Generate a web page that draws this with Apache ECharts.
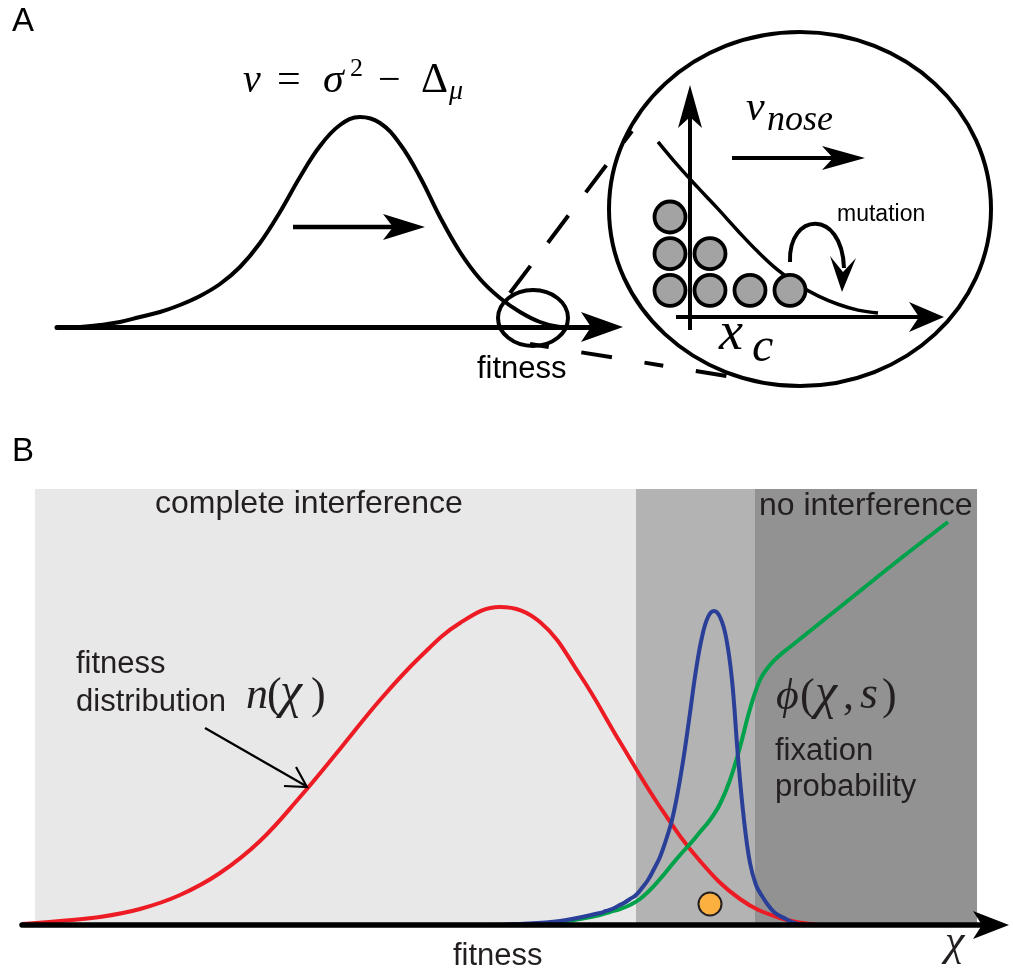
<!DOCTYPE html>
<html><head><meta charset="utf-8">
<script src="https://cdn.jsdelivr.net/npm/echarts@6/dist/echarts.min.js"></script>
<style>html,body{margin:0;padding:0;background:#fff}#c{width:1013px;height:971px}</style>
</head><body><div id="c"></div>
<script>
// ---------- Panel A: travelling fitness wave [fitness, density] ----------
const waveA = [[80,0],[100,2],[120,5],[140,10],[160,15],[180,22],[200,31],[220,43],[240,60],[260,84],[280,115],[300,150],[320,181],[340,202],[360,210],[380,204],[400,183],[420,150],[440,110],[460,75],[480,48],[500,29],[520,15],[540,5],[560,0]];
// ---------- Inset: the nose of the distribution ----------
const noseCurve = [[-0.3,5.05],[0.2,4.4],[0.7,3.8],[1.2,3.22],[1.7,2.62],[2.2,2.05],[2.7,1.55],[3.2,1.15],[3.7,0.85],[4.2,0.62],[4.7,0.46],[5.2,0.38]];
const noseColumns = [0,1,2,3];          // fitness classes
const noseCounts  = [3,2,1,1];          // individuals stacked per class
// ---------- Panel B ----------
const fitnessDist = [[22,1],[60,4],[100,8],[140,16],[180,30],[220,52],[260,84],[300,128],[340,176],[380,225],[420,268],[460,302],[500,318],[540,303],[580,250],[620,183],[660,118],[700,64],[740,26],[780,7],[820,0]];
const fixedOrigin = [[480,0],[520,1],[560,4],[600,12],[606,14],[612,16],[618,19],[624,22],[630,26],[636,30],[642,37],[648,45],[654,56],[660,68],[666,85],[672,105],[678,134],[684,170],[690,212],[696,255],[702,288],[708,308],[714,314],[720,308],[726,288],[732,245],[738,168],[744,105],[750,62],[756,40],[762,29],[768,20],[774,13],[780,9],[786,6],[792,3],[798,1],[804,0]];
const fixationProb = [[100,0],[200,0],[300,0],[400,0],[500,0],[540,1],[560,3],[580,6],[600,10],[610,13],[620,16],[630,20],[640,26],[650,35],[660,46],[670,58],[680,70],[690,81],[700,93],[710,105],[720,121],[730,145],[740,178],[750,216],[760,245],[770,260],[780,270],[790,278],[800,286],[810,294],[850,326],[900,366],[948,403]];
const mutant = [[710,21]];
const zoneNames  = ['complete interference','','no interference'];
const zoneStarts = [35,636,755];
const zoneEnds   = [636,755,977];
const zoneColors = ['#e8e8e8','#b3b3b3','#929292'];

const noseDots = [];
noseColumns.forEach((c,i)=>{ for(let k=1;k<=noseCounts[i];k++) noseDots.push([c,k]); });

const INK = '#231f20';
const SANS = 'Liberation Sans, Arial, Helvetica, sans-serif';
const SERIF = 'Liberation Serif, Times New Roman, serif';
function txt(s,x,base,size,o){
  return {type:'text',x:x,y:base-0.35*size,z:100,silent:true,
    style:Object.assign({text:s,fontSize:size,fontFamily:SANS,fill:INK,textAlign:'left',align:'left',textVerticalAlign:'middle',verticalAlign:'middle'},o||{})};
}
function mth(s,x,base,size,italic,col){
  return {type:'text',x:x,y:base-0.34*size,z:100,silent:true,
    style:{text:s,fontSize:size,fontFamily:SERIF,fontStyle:italic?'italic':'normal',fill:col||'#000',textAlign:'left',align:'left',textVerticalAlign:'middle',verticalAlign:'middle'}};
}
function arrow(x1,y1,x2,y2,len,hw,notch,w,color){
  const a=Math.atan2(y2-y1,x2-x1), c=Math.cos(a), s=Math.sin(a);
  const bx=x2-len*c, by=y2-len*s, nx=x2-(len-notch)*c, ny=y2-(len-notch)*s;
  return [
    {type:'line',z:100,silent:true,shape:{x1:x1,y1:y1,x2:nx,y2:ny},style:{stroke:color,lineWidth:w}},
    {type:'polygon',z:100,silent:true,shape:{points:[[x2,y2],[bx-hw*s,by+hw*c],[nx,ny],[bx+hw*s,by-hw*c]]},style:{fill:color}}
  ];
}

const graphics = [];
graphics.push(txt('A',12,33,33,{fill:'#000'}));
graphics.push(txt('B',12,463,33,{fill:'#000'}));
// formula v = sigma^2 - Delta_mu
graphics.push(mth('v',243,95,40,true));
graphics.push(mth('=',277,95,42,false));
graphics.push(mth('σ',323,95,42,true));
graphics.push(mth('2',350,78,26,false));
graphics.push(mth('−',378,95,40,false));
graphics.push(mth('Δ',421,95,42,false));
graphics.push(mth('μ',449,101,28,true));
// arrow inside wave
graphics.push(...arrow(293,227,425,227,42,13,10,4.5,'#000'));
// small ellipse on the tail
graphics.push({type:'ellipse',z:100,silent:true,shape:{cx:533,cy:318,rx:35,ry:28},style:{fill:null,stroke:'#000',lineWidth:4}});
graphics.push(txt('fitness',477,380,31,{fill:'#000'}));
// dashed zoom lines
graphics.push({type:'line',z:100,silent:true,shape:{x1:510,y1:293,x2:632,y2:131},style:{stroke:'#000',lineWidth:4,lineDash:[34,29]}});
graphics.push({type:'line',z:100,silent:true,shape:{x1:530,y1:344,x2:745,y2:379},style:{stroke:'#000',lineWidth:4,lineDash:[19,33,31,33]}});
// big circle
graphics.push({type:'ellipse',z:100,silent:true,shape:{cx:800,cy:209,rx:191,ry:177},style:{fill:null,stroke:'#000',lineWidth:4}});
// inset axes
graphics.push(...arrow(690,330,690,85,43,12,11,4,'#000'));
graphics.push(...arrow(676,317,944,317,35,15,10,4,'#000'));
// v_nose
graphics.push(mth('v',746,123,42,true));
graphics.push(mth('nose',767,133,36,true));
graphics.push(...arrow(732,158,865,158,43,12,11,4,'#000'));
// mutation
graphics.push(txt('mutation',837,223,23,{fill:'#000'}));
graphics.push({type:'bezierCurve',z:100,silent:true,shape:{x1:790,y1:262,cpx1:788,cpy1:212,cpx2:842,cpy2:208,x2:844,y2:268},style:{stroke:'#000',lineWidth:4,fill:null}});
graphics.push({type:'polygon',z:100,silent:true,shape:{points:[[842,292],[830,256],[843,272],[856,258]]},style:{fill:'#000'}});
// x_c
graphics.push(mth('x',719,353,54,true));
graphics.push(mth('c',752,365,48,true));

// panel B texts
graphics.push(txt('complete interference',155,515,32));
graphics.push(txt('no interference',759,517,32));
graphics.push(txt('fitness',76,675,31));
graphics.push(txt('distribution',76,713,31));
graphics.push(mth('n',246,711,44,true,INK));
graphics.push(mth('(',267,711,44,false,INK));
graphics.push(mth('χ',280,711,50,true,INK));
graphics.push(mth(')',311,711,44,false,INK));
graphics.push({type:'line',z:100,silent:true,shape:{x1:205,y1:728,x2:306,y2:786},style:{stroke:'#000',lineWidth:2.2}});
graphics.push({type:'polyline',z:100,silent:true,shape:{points:[[284,786],[307,787],[296,767]]},style:{stroke:'#000',lineWidth:2.2,fill:null}});
graphics.push(mth('ϕ',776,712,44,true,INK));
graphics.push(mth('(',800,712,44,false,INK));
graphics.push(mth('χ',815,712,50,true,INK));
graphics.push(mth(',',843,712,44,false,INK));
graphics.push(mth('s',860,712,46,true,INK));
graphics.push(mth(')',882,712,44,false,INK));
graphics.push(txt('fixation',775,762,31));
graphics.push(txt('probability',775,798,31));
graphics.push(txt('fitness',453,967,31));
graphics.push(mth('χ',945,958,44,true,INK));

const zoneData = zoneStarts.map((s,i)=>[{xAxis:s,itemStyle:{color:zoneColors[i]}},{xAxis:zoneEnds[i]}]);

const curve = (data,color,w,xi)=>({type:'line',xAxisIndex:xi,yAxisIndex:xi,data:data,smooth:0.4,showSymbol:false,lineStyle:{color:color,width:w},z:3});

const option = {
  animation:false,
  backgroundColor:'#fff',
  grid:[
    {left:57,top:100,width:545,height:227},
    {left:630,top:107,width:320,height:220},
    {left:22,top:489,width:969,height:436}
  ],
  xAxis:[
    {gridIndex:0,type:'value',min:57,max:602,axisLine:{show:true,symbol:['none','path://M15,0L30,42L15,32L0,42Z'],symbolSize:[30,42],lineStyle:{color:'#000',width:5}},axisTick:{show:false},axisLabel:{show:false},splitLine:{show:false}},
    {gridIndex:1,type:'value',min:-1,max:7,show:false},
    {gridIndex:2,type:'value',min:22,max:991,z:10,axisLine:{show:true,symbol:['none','path://M14,0L28,36L14,27L0,36Z'],symbolSize:[28,36],lineStyle:{color:'#000',width:5.5}},axisTick:{show:false},axisLabel:{show:false},splitLine:{show:false}}
  ],
  yAxis:[
    {gridIndex:0,type:'value',min:0,max:227,show:false},
    {gridIndex:1,type:'value',min:0,max:6,show:false},
    {gridIndex:2,type:'value',min:0,max:436,show:false}
  ],
  series:[
    curve(waveA,'#000',4,0),
    curve(noseCurve,'#000',3.5,1),
    {type:'scatter',xAxisIndex:1,yAxisIndex:1,data:noseDots,symbolSize:31,itemStyle:{color:'#a3a3a3',borderColor:'#000',borderWidth:3.8,opacity:1},z:4},
    {type:'line',xAxisIndex:2,yAxisIndex:2,data:[],z:1,markArea:{silent:true,data:zoneData}},
    curve(fitnessDist,'#ed1c24',4,2),
    curve(fixationProb,'#00a14b',4,2),
    curve(fixedOrigin,'#2a3f98',4,2),
    {type:'scatter',xAxisIndex:2,yAxisIndex:2,data:mutant,symbolSize:23,itemStyle:{color:'#fbb040',borderColor:INK,borderWidth:2,opacity:1},z:5}
  ],
  graphic:{elements:graphics}
};
const chart = echarts.init(document.getElementById('c'),null,{renderer:'canvas'});
chart.setOption(option);
</script></body></html>
